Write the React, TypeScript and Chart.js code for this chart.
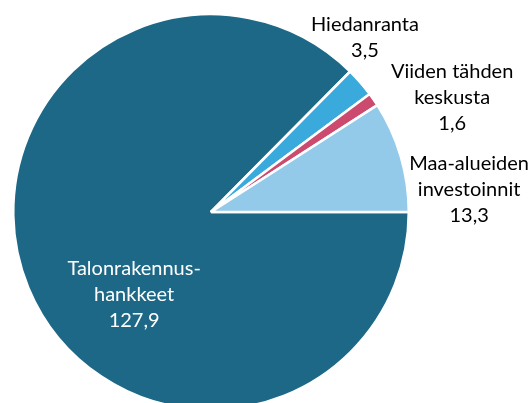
import React, { useEffect, useRef } from "react";
import { Chart, registerables } from "chart.js";

Chart.register(...registerables);

const categories: string[][] = [
  ["Talonrakennus-", "hankkeet"],
  ["Hiedanranta"],
  ["Viiden tähden", "keskusta"],
  ["Maa-alueiden", "investoinnit"],
];
const values: number[] = [127.9, 3.5, 1.6, 13.3];
const valueLabels: string[] = ["127,9", "3,5", "1,6", "13,3"];
const colors: string[] = ["#1D6887", "#3AA9DC", "#CC4A6E", "#93C9E9"];
const labelColors: string[] = ["#FFFFFF", "#000000", "#000000", "#000000"];
// label placement: polar angle (deg, clockwise from 3 o'clock) and distance as fraction of radius
const labelAngles: number[] = [133, -48.5, -25.4, -4.9];
const labelDist: number[] = [0.57, 1.175, 1.35, 1.31];

const FONT = "Lato, 'Noto Sans', sans-serif";

const labelPlugin = {
  id: "sliceLabels",
  afterDatasetsDraw(chart: any) {
    const ctx = chart.ctx;
    const meta = chart.getDatasetMeta(0);
    ctx.save();
    ctx.font = `20px ${FONT}`;
    ctx.textAlign = "center";
    ctx.textBaseline = "middle";
    const lineH = 26;
    meta.data.forEach((arc: any, i: number) => {
      const { x, y, outerRadius } = arc.getProps(["x", "y", "outerRadius"], true);
      const a = (labelAngles[i] * Math.PI) / 180;
      const cx = x + Math.cos(a) * outerRadius * labelDist[i];
      const cy = y + Math.sin(a) * outerRadius * labelDist[i];
      const lines = [...categories[i], valueLabels[i]];
      const top = cy - ((lines.length - 1) * lineH) / 2;
      ctx.fillStyle = labelColors[i];
      lines.forEach((t, k) => ctx.fillText(t, cx, top + k * lineH));
    });
    ctx.restore();
  },
};

export default function App() {
  const ref = useRef<HTMLCanvasElement | null>(null);
  useEffect(() => {
    if (!ref.current) return;
    const chart = new Chart(ref.current, {
      type: "pie",
      data: {
        labels: categories.map((c) => c.join(" ")),
        datasets: [
          {
            data: values,
            backgroundColor: colors,
            borderColor: "#FFFFFF",
            borderWidth: 2.5,
          },
        ],
      },
      options: {
        responsive: false,
        animation: false,
        rotation: 90,
        layout: { padding: { left: 12, top: 12, right: 119, bottom: 12 } },
        plugins: {
          legend: { display: false },
          tooltip: { enabled: false },
        },
      },
      plugins: [labelPlugin],
    });
    return () => chart.destroy();
  }, []);
  return (
    <div
      style={{
        position: "absolute",
        left: 0,
        top: 0,
        width: 529,
        height: 403,
        overflow: "hidden",
        background: "#FFFFFF",
      }}
    >
      <canvas ref={ref} width={529} height={424} style={{ display: "block" }} />
    </div>
  );
}
